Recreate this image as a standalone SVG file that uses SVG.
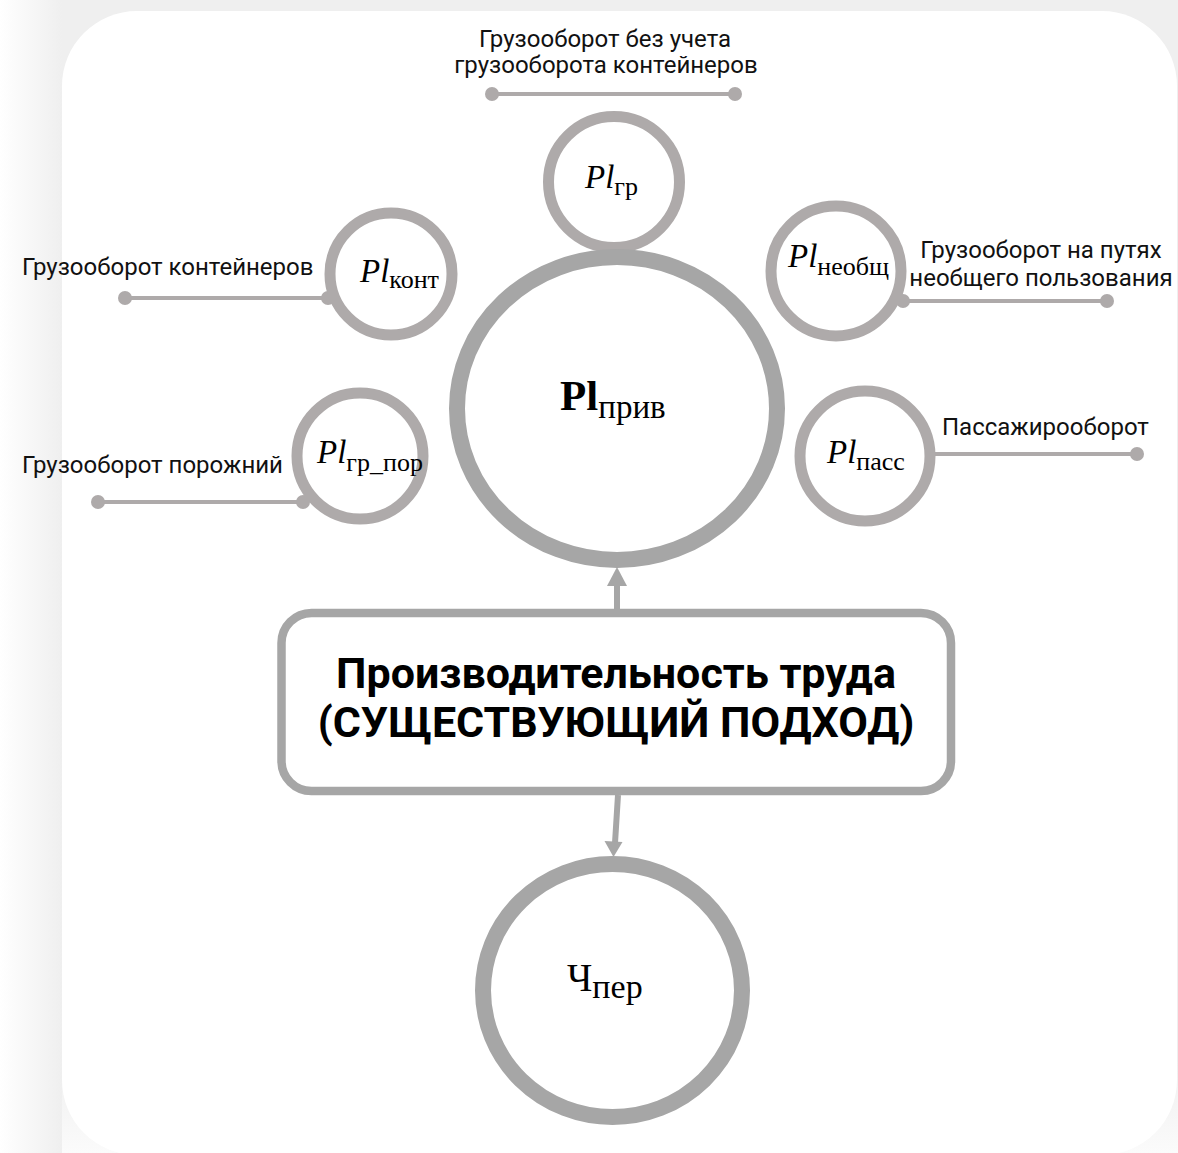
<svg xmlns="http://www.w3.org/2000/svg" width="1178" height="1153" viewBox="0 0 1178 1153">
  <defs>
    <linearGradient id="leftShade" x1="0" y1="0" x2="1" y2="0">
      <stop offset="0" stop-color="#ffffff"/>
      <stop offset="1" stop-color="#efefef"/>
    </linearGradient>
    <linearGradient id="bottomShade" x1="0" y1="0" x2="0" y2="1">
      <stop offset="0" stop-color="#efefef"/>
      <stop offset="1" stop-color="#fbfbfb"/>
    </linearGradient>
    <marker id="dot" viewBox="0 0 14 14" refX="7" refY="7" markerWidth="14" markerHeight="14" markerUnits="userSpaceOnUse">
      <circle cx="7" cy="7" r="7" fill="#AEAAAA"/>
    </marker>
  </defs>
  <style>
    .ring { fill: #ffffff; stroke: #AEAAAA; stroke-width: 11; }
    .bigring { fill: #ffffff; stroke: #A6A6A6; stroke-width: 16; }
    .lead { stroke: #AEAAAA; stroke-width: 4; fill: none; marker-start: url(#dot); marker-end: url(#dot); }
    .arrow { stroke: #A6A6A6; stroke-width: 6; fill: none; }
    .head { fill: #A6A6A6; }
    .lbl { font-family: Roboto, "Liberation Sans", sans-serif; font-size: 24px; fill: #111111; }
    .math { font-family: "Liberation Serif", "DejaVu Serif", serif; font-size: 33px; font-style: italic; fill: #000000; }
    .sub { font-style: normal; font-size: 26px; }
    .title { font-family: Roboto, "Liberation Sans", sans-serif; font-size: 43px; font-weight: bold; fill: #000000; text-anchor: middle; }
  </style>

  <!-- background and card -->
  <rect x="0" y="0" width="1178" height="1153" fill="#efefef"/>
  <rect x="0" y="1060" width="1178" height="93" fill="url(#bottomShade)"/>
  <rect x="0" y="0" width="62" height="1153" fill="url(#leftShade)"/>
  <rect x="62" y="11" width="1115" height="1144" rx="75" ry="75" fill="#ffffff"/>

  <!-- connectors -->
  <g id="connectors">
    <line class="lead" x1="492" y1="94" x2="735" y2="94"/>
    <line class="lead" x1="125" y1="298" x2="328" y2="298"/>
    <line class="lead" x1="98" y1="502" x2="303" y2="502"/>
    <line class="lead" x1="903" y1="301" x2="1107" y2="301"/>
    <line class="lead" x1="927" y1="454" x2="1137" y2="454"/>
    <line class="arrow" x1="617" y1="610" x2="617" y2="584"/>
    <polygon class="head" points="617,567 607,586 627,586"/>
    <line class="arrow" x1="618" y1="795" x2="615" y2="843"/>
    <polygon class="head" points="613.5,857 604.5,841 622.5,842"/>
  </g>

  <!-- top label -->
  <g id="label-top">
    <text class="lbl" x="605" y="47" text-anchor="middle">Грузооборот без учета</text>
    <text class="lbl" x="606" y="73" text-anchor="middle">грузооборота контейнеров</text>
  </g>

  <g id="node-gr">
    <circle class="ring" cx="614" cy="182" r="65.5"/>
    <text class="math" x="585" y="188">Pl<tspan class="sub" dy="7">гр</tspan></text>
  </g>

  <g id="node-kont">
    <circle class="ring" cx="391" cy="274" r="61"/>
    <text class="math" x="360" y="282">Pl<tspan class="sub" dy="6">конт</tspan></text>
    <text class="lbl" x="22" y="275">Грузооборот контейнеров</text>
  </g>

  <g id="node-gr-por">
    <circle class="ring" cx="360" cy="456" r="63"/>
    <text class="math" x="317" y="463">Pl<tspan class="sub" dy="8">гр_пор</tspan></text>
    <text class="lbl" x="22" y="473">Грузооборот порожний</text>
  </g>

  <g id="node-neobsh">
    <circle class="ring" cx="836" cy="271" r="65"/>
    <text class="math" x="788" y="267">Pl<tspan class="sub" dy="8">необщ</tspan></text>
    <text class="lbl" x="1041" y="258" text-anchor="middle">Грузооборот на путях</text>
    <text class="lbl" x="1041" y="286" text-anchor="middle">необщего пользования</text>
  </g>

  <g id="node-pass">
    <circle class="ring" cx="865" cy="456" r="65"/>
    <text class="math" x="827" y="463">Pl<tspan class="sub" dy="7">пасс</tspan></text>
    <text class="lbl" x="942" y="435">Пассажирооборот</text>
  </g>

  <g id="node-priv">
    <ellipse class="bigring" cx="617" cy="408.5" rx="160" ry="151.5"/>
    <text x="560" y="410" font-family="'Liberation Serif', 'DejaVu Serif', serif" font-size="43" font-weight="bold" fill="#000">Pl<tspan font-weight="normal" font-size="33" dy="8">прив</tspan></text>
  </g>

  <g id="node-main">
    <rect x="281.5" y="613" width="669.5" height="178" rx="30" ry="30" fill="#ffffff" stroke="#A6A6A6" stroke-width="8.5"/>
    <text class="title" x="616" y="688">Производительность труда</text>
    <text class="title" x="616" y="737">(СУЩЕСТВУЮЩИЙ ПОДХОД)</text>
  </g>

  <g id="node-chper">
    <ellipse class="bigring" cx="612.5" cy="990.5" rx="129.5" ry="126.5"/>
    <text x="567" y="991" font-family="'Liberation Serif', 'DejaVu Serif', serif" font-size="39" fill="#000">Ч<tspan font-size="34" dy="7">пер</tspan></text>
  </g>
</svg>
